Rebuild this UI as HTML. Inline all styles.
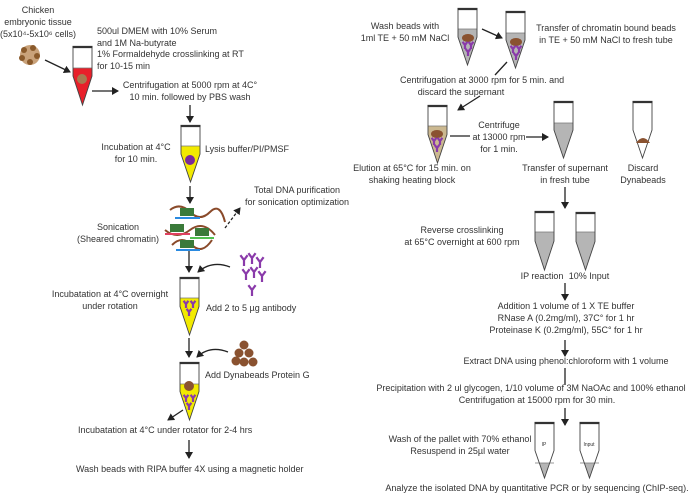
<!DOCTYPE html>
<html><head><meta charset="utf-8"><style>
body{margin:0;background:#fff;width:700px;height:495px;overflow:hidden}
svg text{font-family:"Liberation Sans",sans-serif;font-size:9px;fill:#333}
</style></head><body>
<svg id="s" width="700" height="495" viewBox="0 0 700 495" xmlns="http://www.w3.org/2000/svg">
<defs><marker id="ah" markerWidth="8" markerHeight="8" refX="6" refY="4" orient="auto" markerUnits="userSpaceOnUse"><path d="M0,0 L7,4 L0,8 Z" fill="#222"/></marker></defs>
<g id="tubes"></g>
<g stroke="#222" stroke-width="1.3" fill="none" marker-end="url(#ah)">
<line x1="45" y1="60" x2="70" y2="72"/>
<line x1="92" y1="91" x2="118" y2="91"/>
<line x1="190" y1="105" x2="190" y2="122"/>
<line x1="190" y1="186" x2="190" y2="203"/>
<line x1="225" y1="228" x2="240" y2="208" stroke-dasharray="3,2"/>
<line x1="189" y1="250" x2="189" y2="272"/>
<path d="M230,267 Q212,260 198,272"/>
<line x1="189" y1="338" x2="189" y2="357"/>
<path d="M228,352 Q210,345 197,357"/>
<line x1="183" y1="410" x2="168" y2="420"/>
<line x1="189" y1="440" x2="189" y2="458"/>
<line x1="482" y1="29" x2="502" y2="38"/>
<line x1="480" y1="96" x2="458" y2="110"/>
<line x1="526" y1="137" x2="548" y2="137"/>
<line x1="565" y1="187" x2="565" y2="208"/>
<line x1="565" y1="283" x2="565" y2="300"/>
<line x1="565" y1="340" x2="565" y2="356"/>
<line x1="565" y1="408" x2="565" y2="425"/>
</g>
<g stroke="#222" stroke-width="1.3">
<line x1="507" y1="62" x2="495" y2="75"/>
<line x1="450" y1="136" x2="470" y2="136"/>
<line x1="565" y1="368" x2="565" y2="385"/>
</g>
<g fill="#8a5a2b"><circle cx="30" cy="55" r="10" fill="#c9a27a"/><circle cx="24" cy="50" r="3"/><circle cx="33" cy="48" r="3"/><circle cx="37" cy="56" r="3"/><circle cx="30" cy="62" r="3"/><circle cx="22" cy="58" r="3"/></g>
<g stroke-width="2" fill="none">
<path d="M170,210 q10,-8 20,2 t20,0 t15,10" stroke="#8a4a2a"/>
<path d="M165,230 q12,10 25,0 t25,5" stroke="#8a4a2a"/>
<path d="M172,245 q10,-10 20,0 t20,-5" stroke="#8a4a2a"/>
</g>
<g><rect x="180" y="208" width="14" height="8" fill="#3a7a3a"/><rect x="170" y="224" width="14" height="8" fill="#3a7a3a"/><rect x="195" y="228" width="14" height="8" fill="#3a7a3a"/><rect x="180" y="240" width="14" height="8" fill="#3a7a3a"/>
<line x1="175" y1="218" x2="200" y2="218" stroke="#2a8ae0" stroke-width="2"/><line x1="165" y1="234" x2="190" y2="234" stroke="#e04060" stroke-width="2"/><line x1="190" y1="238" x2="214" y2="238" stroke="#50c050" stroke-width="2"/><line x1="176" y1="250" x2="200" y2="250" stroke="#2a8ae0" stroke-width="2"/></g>
<g id="ab" fill="none" stroke="#8a3aaa" stroke-width="2.2"></g>
<g fill="#8a5230"><circle cx="244" cy="345" r="4.5"/><circle cx="239" cy="353" r="4.5"/><circle cx="249" cy="353" r="4.5"/><circle cx="236" cy="361" r="4.5"/><circle cx="244" cy="362" r="4.5"/><circle cx="253" cy="362" r="4.5"/></g>

<text x="38" y="13" text-anchor="middle">Chicken</text>
<text x="38" y="25" text-anchor="middle">embryonic tissue</text>
<text x="38" y="37" text-anchor="middle">(5x10⁴-5x10⁶ cells)</text>
<text x="97" y="34">500ul DMEM with 10% Serum</text>
<text x="97" y="46">and 1M Na-butyrate</text>
<text x="97" y="57">1% Formaldehyde crosslinking at RT</text>
<text x="97" y="69">for 10-15 min</text>
<text x="190" y="88" text-anchor="middle">Centrifugation at 5000 rpm at 4C°</text>
<text x="190" y="100" text-anchor="middle">10 min. followed by PBS wash</text>
<text x="136" y="150" text-anchor="middle">Incubation at 4°C</text>
<text x="136" y="162" text-anchor="middle">for 10 min.</text>
<text x="205" y="152">Lysis buffer/PI/PMSF</text>
<text x="297" y="193" text-anchor="middle">Total DNA purification</text>
<text x="297" y="205" text-anchor="middle">for sonication optimization</text>
<text x="118" y="230" text-anchor="middle">Sonication</text>
<text x="118" y="242" text-anchor="middle">(Sheared chromatin)</text>
<text x="110" y="297" text-anchor="middle">Incubatation at 4°C overnight</text>
<text x="110" y="309" text-anchor="middle">under rotation</text>
<text x="206" y="311">Add 2 to 5 µg antibody</text>
<text x="205" y="378">Add Dynabeads Protein G</text>
<text x="78" y="433">Incubatation at 4°C under rotator for 2-4 hrs</text>
<text x="76" y="472">Wash beads with RIPA buffer 4X using a magnetic holder</text>

<text x="405" y="29" text-anchor="middle">Wash beads with</text>
<text x="405" y="41" text-anchor="middle">1ml TE + 50 mM NaCl</text>
<text x="606" y="31" text-anchor="middle">Transfer of chromatin bound beads</text>
<text x="606" y="43" text-anchor="middle">in TE + 50 mM NaCl to fresh tube</text>
<text x="400" y="83">Centrifugation at 3000 rpm for 5 min. and</text>
<text x="461" y="95" text-anchor="middle">discard the supernant</text>
<text x="499" y="128" text-anchor="middle">Centrifuge</text>
<text x="499" y="140" text-anchor="middle">at 13000 rpm</text>
<text x="499" y="152" text-anchor="middle">for 1 min.</text>
<text x="412" y="171" text-anchor="middle">Elution at 65°C for 15 min. on</text>
<text x="412" y="183" text-anchor="middle">shaking heating block</text>
<text x="565" y="171" text-anchor="middle">Transfer of supernant</text>
<text x="565" y="183" text-anchor="middle">in fresh tube</text>
<text x="643" y="171" text-anchor="middle">Discard</text>
<text x="643" y="183" text-anchor="middle">Dynabeads</text>
<text x="462" y="233" text-anchor="middle">Reverse crosslinking</text>
<text x="462" y="245" text-anchor="middle">at 65°C overnight at 600 rpm</text>
<text x="542" y="279" text-anchor="middle">IP reaction</text>
<text x="589" y="279" text-anchor="middle">10% Input</text>
<text x="566" y="309" text-anchor="middle">Addition 1 volume of 1 X TE buffer</text>
<text x="566" y="321" text-anchor="middle">RNase A (0.2mg/ml), 37C° for 1 hr</text>
<text x="566" y="333" text-anchor="middle">Proteinase K (0.2mg/ml), 55C° for 1 hr</text>
<text x="566" y="364" text-anchor="middle">Extract DNA using phenol:chloroform with 1 volume</text>
<text x="531" y="391" text-anchor="middle">Precipitation with 2 ul glycogen, 1/10 volume of 3M NaOAc and 100% ethanol</text>
<text x="537" y="403" text-anchor="middle">Centrifugation at 15000 rpm for 30 min.</text>
<text x="460" y="442" text-anchor="middle">Wash of the pallet with 70% ethanol</text>
<text x="460" y="454" text-anchor="middle">Resuspend in 25µl water</text>
<text x="544" y="446" text-anchor="middle" style="font-size:5px">IP</text>
<text x="589" y="446" text-anchor="middle" style="font-size:5px">Input</text>
<text x="537" y="491" text-anchor="middle">Analyze the isolated DNA by quantitative PCR or by sequencing (ChIP-seq).</text>
</svg>
<script>
var NS="http://www.w3.org/2000/svg",g=document.getElementById("tubes");
function el(n,a,p){var e=document.createElementNS(NS,n);for(var k in a)e.setAttribute(k,a[k]);(p||g).appendChild(e);return e;}
function tube(x,top,tip,fy,col,w){w=w||19;var cx=x+w/2,cb=top+(tip-top)*0.5;
 if(fy!=null){var d=fy<cb?"M"+x+","+fy+" L"+x+","+cb+" L"+cx+","+tip+" L"+(x+w)+","+cb+" L"+(x+w)+","+fy+"Z":
  (function(){var t=(fy-cb)/(tip-cb),hw=w/2*(1-t);return "M"+(cx-hw)+","+fy+" L"+cx+","+tip+" L"+(cx+hw)+","+fy+"Z";})();
  el("path",{d:d,fill:col,stroke:"none"});el("line",{x1:x,y1:fy,x2:x+w,y2:fy,stroke:"#777","stroke-width":0.8});}
 el("path",{d:"M"+x+","+top+" L"+x+","+cb+" L"+cx+","+tip+" L"+(x+w)+","+cb+" L"+(x+w)+","+top,fill:"none",stroke:"#444","stroke-width":0.9});
 el("line",{x1:x-0.5,y1:top,x2:x+w+0.5,y2:top,stroke:"#333","stroke-width":2.2});}
var Y="#f2ea00",G="#b5b5b5";
tube(73,47,105,68,"#e8202a");
el("circle",{cx:82,cy:79,r:5,fill:"#a87a50"});
tube(181,126,182,146,Y);el("circle",{cx:190,cy:160,r:5,fill:"#7a2a9a"});
tube(180,278,335,298,Y);tube(180,363,420,384,Y);
el("circle",{cx:189,cy:386,r:5,fill:"#8a5230"});
tube(458,9,65,29,G);tube(506,12,68,33,G);tube(428,106,163,126,"#cbb890");
tube(554,102,158,123,G);tube(633,102,158,null);
el("path",{d:"M636,143 q7,-10 14,0 z",fill:"#8a5230"});
tube(535,212,270,232,G);tube(576,213,270,232,G);
tube(535,423,478,463,G);tube(580,423,478,463,G);
[[468,38],[516,42],[437,134]].forEach(function(p){el("ellipse",{cx:p[0],cy:p[1],rx:6,ry:4,fill:"#8a5230"});});
var ab=document.getElementById("ab");
function Yab(x,y,s){s=s||1;el("path",{d:"M"+(x-3*s)+","+(y-4*s)+" L"+x+","+y+" L"+(x+3*s)+","+(y-4*s)+" M"+x+","+y+" L"+x+","+(y+5*s)},ab);}
[[244,260],[252,258],[260,262],[246,274],[254,272],[262,276],[252,290]].forEach(function(p){Yab(p[0],p[1],1.2);});
[[186,304],[193,304],[189,312],[186,398],[193,398],[189,406],[465,45],[471,45],[468,52],[513,49],[519,49],[516,56],[434,141],[440,141],[437,148]].forEach(function(p){Yab(p[0],p[1],0.8);});
</script>
</body></html>
